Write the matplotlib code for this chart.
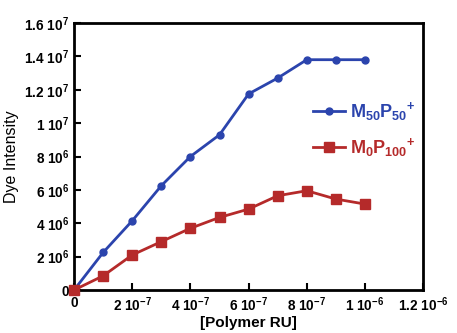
import matplotlib
matplotlib.use("Agg")
import matplotlib.pyplot as plt

plt.rcParams['font.family'] = 'Liberation Sans'
plt.rcParams['font.weight'] = 'bold'
plt.rcParams['mathtext.fontset'] = 'custom'
plt.rcParams['mathtext.rm'] = 'Liberation Sans:bold'
plt.rcParams['mathtext.it'] = 'Liberation Sans:bold'
plt.rcParams['mathtext.bf'] = 'Liberation Sans:bold'

# data
polymer_ru = [0, 1e-7, 2e-7, 3e-7, 4e-7, 5e-7, 6e-7, 7e-7, 8e-7, 9e-7, 1e-6]
m50p50 = [0, 2.25e6, 4.15e6, 6.25e6, 8.0e6, 9.3e6, 11.75e6, 12.7e6, 13.8e6, 13.8e6, 13.8e6]
m0p100 = [0, 0.85e6, 2.1e6, 2.9e6, 3.7e6, 4.35e6, 4.85e6, 5.65e6, 5.95e6, 5.45e6, 5.15e6]

x_ticks = [0, 2e-7, 4e-7, 6e-7, 8e-7, 1e-6, 1.2e-6]
x_labels = ['0', r'2 10$^{-7}$', r'4 10$^{-7}$', r'6 10$^{-7}$', r'8 10$^{-7}$',
            r'1 10$^{-6}$', r'1.2 10$^{-6}$']
y_ticks = [0, 2e6, 4e6, 6e6, 8e6, 1e7, 1.2e7, 1.4e7, 1.6e7]
y_labels = ['0', r'2 10$^{6}$', r'4 10$^{6}$', r'6 10$^{6}$', r'8 10$^{6}$',
            r'1 10$^{7}$', r'1.2 10$^{7}$', r'1.4 10$^{7}$', r'1.6 10$^{7}$']

fig = plt.figure(figsize=(4.57, 3.33), dpi=100)
ax = fig.add_axes([0.162, 0.129, 0.764, 0.802])

p1, = ax.plot(polymer_ru, m50p50, '-o', color='#2b44ad', lw=2, ms=5, clip_on=False, zorder=3)
p2, = ax.plot(polymer_ru, m0p100, '-s', color='#b52a2a', lw=2, ms=6.5, clip_on=False, zorder=4)

ax.set_xlim(0, 1.2e-6)
ax.set_ylim(0, 1.6e7)
ax.set_xticks(x_ticks)
ax.set_xticklabels(x_labels)
ax.set_yticks(y_ticks)
ax.set_yticklabels(y_labels)
ax.tick_params(direction='in', length=5, width=1.5, labelsize=9.8, top=False, right=False)
ax.tick_params(axis='x', pad=4)
for s in ax.spines.values():
    s.set_linewidth(2)

ax.set_xlabel('[Polymer RU]', fontsize=11, fontweight='bold', labelpad=1)
ax.set_ylabel('Dye Intensity', fontsize=11.5, fontweight='normal', labelpad=4)

leg = ax.legend([p1, p2], [r'M$_{50}$P$_{50}$$^{+}$', r'M$_{0}$P$_{100}$$^{+}$'],
                loc='upper left', bbox_to_anchor=(0.685, 0.71), frameon=False,
                fontsize=13, handlelength=1.75, handletextpad=0.3, labelspacing=0.7,
                borderpad=0, borderaxespad=0)
for t, c in zip(leg.get_texts(), ['#2b44ad', '#b52a2a']):
    t.set_color(c)

fig.savefig('out.png', dpi=100)
